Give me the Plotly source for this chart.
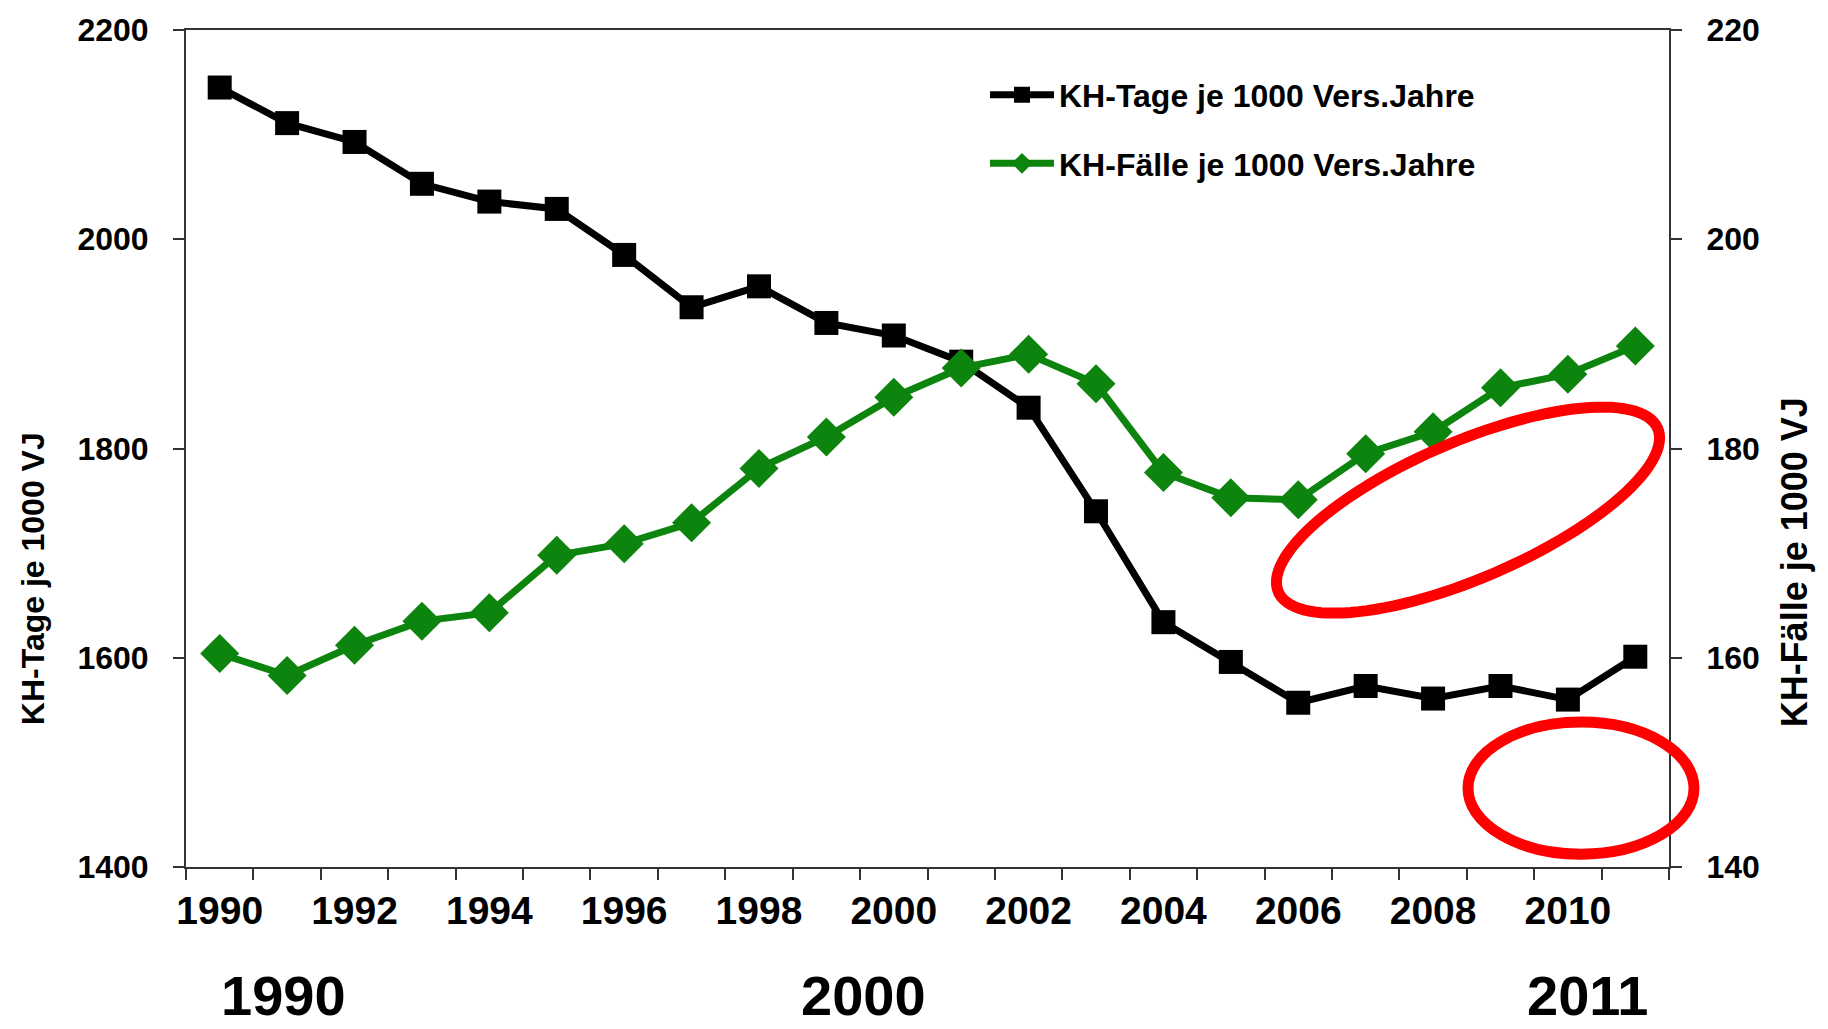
import numpy as np
import plotly.graph_objects as go

# values
years = list(range(1990, 2012))
kh_tage = [2145, 2111, 2093, 2053, 2036, 2029, 1985, 1935, 1955, 1920, 1908,
           1883, 1839, 1740, 1634, 1596, 1557, 1573, 1561, 1573, 1560, 1601]
kh_faelle = [160.4, 158.3, 161.2, 163.5, 164.3, 169.8, 170.9, 172.9, 178.1, 181.1, 184.9,
             187.7, 189.0, 186.2, 177.7, 175.3, 175.1, 179.5, 181.6, 185.8, 187.1, 189.8]
tick_years = list(range(1990, 2011, 2))
big_years = ["1990", "2000", "2011"]

# page and plot area in pixels
W, H = 1828, 1029
L, R, T, B = 186, 1669, 18, 867


def px(x):
    return (x - L) / (R - L)


def py(y):
    return (B - y) / (B - T)


axis_col = "#333333"
green = "#0d840d"

fig = go.Figure()

fig.add_trace(go.Scatter(
    x=years, y=kh_tage, name="KH-Tage je 1000 Vers.Jahre",
    mode="lines+markers", legendgroup="a",
    line=dict(color="black", width=7),
    marker=dict(symbol="square", size=24, color="black"),
))
fig.add_trace(go.Scatter(
    x=years, y=kh_faelle, name="KH-Fälle je 1000 Vers.Jahre",
    mode="lines+markers", legendgroup="b", yaxis="y2",
    line=dict(color=green, width=7),
    marker=dict(symbol="diamond", size=30, color=green),
))

# red ellipses drawn over the chart
shapes = []
cx, cy, a, b, ang = 1468, 505, 207, 69, np.radians(23.7)
t = np.linspace(0, 2 * np.pi, 120)
ex = cx + a * np.cos(t) * np.cos(ang) + b * np.sin(t) * np.sin(ang)
ey = cy - a * np.cos(t) * np.sin(ang) + b * np.sin(t) * np.cos(ang)
path = "M " + " L ".join(f"{px(u):.5f},{py(v):.5f}" for u, v in zip(ex, ey)) + " Z"
shapes.append(dict(type="path", path=path, xref="paper", yref="paper",
                   line=dict(color="#ff0000", width=11)))
shapes.append(dict(type="circle", xref="paper", yref="paper",
                   x0=px(1581 - 113), x1=px(1581 + 113),
                   y0=py(787 + 67), y1=py(787 - 67),
                   line=dict(color="#ff0000", width=11)))

annotations = []
# axis titles
annotations.append(dict(text="KH-Tage je 1000 VJ", x=px(33), y=py(575), xref="paper", yref="paper",
                        xanchor="center", yanchor="middle", textangle=-90, showarrow=False,
                        font=dict(size=32, weight="bold", color="black")))
annotations.append(dict(text="KH-Fälle je 1000 VJ", x=px(1794), y=py(558), xref="paper", yref="paper",
                        xanchor="center", yanchor="middle", textangle=-90, showarrow=False,
                        font=dict(size=36, weight="bold", color="black")))
# big year labels under the chart
for lab, xpos in zip(big_years, [283, 863, 1588]):
    annotations.append(dict(text=lab, x=px(xpos), y=py(997), xref="paper", yref="paper",
                            xanchor="center", yanchor="middle", showarrow=False,
                            font=dict(size=56, weight="bold", color="black")))

fig.update_layout(
    width=W, height=H,
    margin=dict(l=L, r=W - R, t=T, b=H - B),
    plot_bgcolor="white", paper_bgcolor="white",
    font=dict(family="Arial", color="black"),
    showlegend=True,
    legend=dict(x=px(985), y=py(56), xanchor="left", yanchor="top",
                font=dict(size=32, weight="bold"), itemwidth=64,
                tracegroupgap=24, bgcolor="rgba(0,0,0,0)"),
    shapes=shapes,
    annotations=annotations,
    xaxis=dict(range=[1989.5, 2011.5], tickvals=tick_years, ticks="",
               showline=True, linecolor=axis_col, linewidth=2, mirror=True,
               showgrid=False, zeroline=False,
               minor=dict(ticks="outside", tick0=1989.5, dtick=1, ticklen=11,
                          tickcolor=axis_col, tickwidth=2, showgrid=False),
               tickfont=dict(size=39, weight="bold"), ticklabelstandoff=8),
    yaxis=dict(range=[1400, 2200], tick0=1400, dtick=200, ticks="outside",
               ticklen=11, tickcolor=axis_col, tickwidth=2,
               showline=True, linecolor=axis_col, linewidth=2,
               showgrid=False, zeroline=False,
               tickfont=dict(size=32, weight="bold"), ticklabelstandoff=18),
    yaxis2=dict(range=[140, 220], tick0=140, dtick=20, ticks="outside",
                ticklen=11, tickcolor=axis_col, tickwidth=2,
                showline=True, linecolor=axis_col, linewidth=2,
                showgrid=False, zeroline=False, overlaying="y", side="right",
                tickfont=dict(size=32, weight="bold"), ticklabelstandoff=18),
)

# drop the default page margin so the figure sits at the window corner
fig.write_html("out.html", config={"displayModeBar": False},
               post_script="document.body.style.margin='0';document.body.style.overflow='hidden';")
